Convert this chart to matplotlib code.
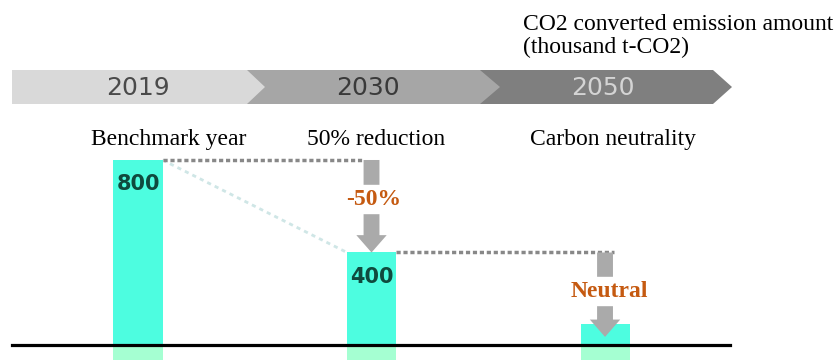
import numpy as np
import matplotlib
matplotlib.use("Agg")
import matplotlib.pyplot as plt
from matplotlib.patches import Polygon, Rectangle, FancyArrow

# data
years = ["2019", "2030", "2050"]
stages = ["Benchmark year", "50% reduction", "Carbon neutrality"]
emissions = [800, 400, 90]
bar_labels = ["800", "400", ""]
change_labels = ["-50%", "Neutral"]
unit_label = ["CO2 converted emission amount", "(thousand t-CO2)"]

W, H = 839, 360
fig = plt.figure(figsize=(W / 100, H / 100), dpi=100)
ax = fig.add_axes([0, 0, 1, 1])
ax.set_xlim(-0.591, 3.002)
ax.set_ylim(-64.9, 1491.9)
ax.axis("off")


def px(x, y):
    # pixel (from top-left) -> figure fraction
    return (x / W, 1 - y / H)


serif = "Liberation Serif"
x = np.arange(len(emissions))
bw = 0.21

# bars (plus the cropped stub under the base line)
ax.bar(x, emissions, width=bw, color="#4dfde0", zorder=2)
ax.bar(x, [-65] * 3, width=bw, color="#a5ffd2", zorder=2)
for xi, v, lab in zip(x, emissions, bar_labels):
    if lab:
        ax.text(xi, v - 105, lab, ha="center", va="center", fontsize=15,
                fontweight="bold", color="#0f4a3e", zorder=5)

# base line
ax.plot([-0.54, 2.535], [0, 0], color="black", lw=2.3, zorder=6)

# guide lines between bars
ax.plot([x[0] + bw / 2, x[1] - 0.04], [emissions[0]] * 2, color="#888888",
        lw=2.5, ls=(0, (1.2, 0.8)), zorder=3)
ax.plot([x[1] + bw / 2, x[2] + 0.04], [emissions[1]] * 2, color="#888888",
        lw=2.5, ls=(0, (1.2, 0.8)), zorder=3)
ax.plot([x[0] + bw / 2, x[1] - bw / 2], [emissions[0], emissions[1]],
        color="#cfe6e6", lw=2, ls=(0, (1.5, 1.5)), zorder=1)

# reduction arrows
for i, (start, end) in enumerate([(emissions[0], emissions[1]), (emissions[1], 35)]):
    ax.add_patch(FancyArrow(x[i + 1], start, 0, end - start, width=0.068,
                            head_width=0.13, head_length=75,
                            length_includes_head=True, color="#aaaaaa",
                            lw=0, zorder=4))

# white label boxes
for bx, by, bwid in [(326, 213, 97), (530, 305, 160)]:
    ax.add_artist(Rectangle(px(bx, by), bwid / W, 28 / H, transform=fig.transFigure,
                            color="white", zorder=5, clip_on=False))
ax.text(1.01, 631, change_labels[0], ha="center", va="center", fontsize=17,
        family=serif, fontweight="bold", color="#c55a11", zorder=7)
ax.text(2.02, 233, change_labels[1], ha="center", va="center", fontsize=17,
        family=serif, fontweight="bold", color="#c55a11", zorder=7)

# timeline chevrons
chev = [(470, 713, 732, "#7f7f7f", "#d4d4d4"),
        (240, 480, 500, "#a6a6a6", "#3a3a3a"),
        (12, 247, 265, "#d9d9d9", "#4a4a4a")]
for (x0, x1, tip, fc, tc), yr, cx in zip(chev, years[::-1], [603, 368, 138]):
    pts = [px(x0, 70), px(x1, 70), px(tip, 87), px(x1, 104), px(x0, 104)]
    fig.patches.append(Polygon(pts, closed=True, transform=fig.transFigure,
                               facecolor=fc, edgecolor="none"))
    fig.text(*px(cx, 88), yr, ha="center", va="center", fontsize=18,
             color=tc)

for lab, lx in zip(stages, [91, 307, 530]):
    fig.text(*px(lx, 145), lab, ha="left", va="baseline", fontsize=17,
             family=serif, color="black")

fig.text(*px(523, 30), unit_label[0], ha="left", va="baseline", fontsize=17,
         family=serif, color="black")
fig.text(*px(523, 53), unit_label[1], ha="left", va="baseline", fontsize=17,
         family=serif, color="black")

fig.savefig("out.png", dpi=100)
